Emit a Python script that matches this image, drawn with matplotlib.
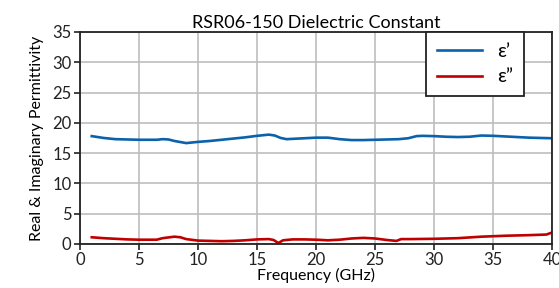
import matplotlib
matplotlib.use("Agg")
import matplotlib.pyplot as plt

plt.rcParams['font.family'] = ['Lato', 'DejaVu Sans']

# frequency points (GHz) and permittivity
freq_real = [1, 2, 3, 4, 5, 6, 6.5, 7, 7.5, 8, 9, 10, 11, 12, 13, 14, 15, 16,
             16.5, 17, 17.5, 18, 19, 20, 21, 22, 23, 24, 25, 26, 27, 27.8,
             28.5, 29, 30, 31, 32, 33, 34, 35, 36, 37, 38, 39, 40]
eps_real = [17.8, 17.5, 17.3, 17.25, 17.2, 17.2, 17.2, 17.3, 17.25, 17.0, 16.65,
            16.85, 17.0, 17.2, 17.4, 17.6, 17.85, 18.05, 17.9, 17.5, 17.3,
            17.35, 17.45, 17.55, 17.55, 17.3, 17.15, 17.15, 17.2, 17.25, 17.3,
            17.45, 17.8, 17.85, 17.8, 17.7, 17.65, 17.7, 17.9, 17.85, 17.75,
            17.65, 17.55, 17.5, 17.45]

freq_imag = [1, 2, 3, 4, 5, 6, 6.5, 7, 8, 8.5, 9, 10, 11, 12, 13, 14, 15, 16,
             16.4, 16.8, 17.2, 18, 19, 20, 21, 22, 23, 24, 25, 26, 26.8, 27.2,
             28, 30, 32, 34, 36, 38, 39.5, 40]
eps_imag = [1.1, 0.95, 0.85, 0.75, 0.7, 0.7, 0.7, 0.95, 1.2, 1.1, 0.8, 0.55,
            0.5, 0.45, 0.5, 0.6, 0.75, 0.8, 0.65, 0.15, 0.6, 0.75, 0.75, 0.7,
            0.6, 0.7, 0.9, 1.0, 0.9, 0.65, 0.5, 0.8, 0.8, 0.85, 0.95, 1.2,
            1.35, 1.45, 1.55, 1.9]

x_ticks = [0, 5, 10, 15, 20, 25, 30, 35, 40]
y_ticks = [0, 5, 10, 15, 20, 25, 30, 35]

fig, ax = plt.subplots(figsize=(5.59, 2.88), dpi=100)
fig.subplots_adjust(left=0.143, right=0.988, top=0.889, bottom=0.153)

ax.plot(freq_real, eps_real, color='#0b62ab', lw=1.9, label='ε’')
ax.plot(freq_imag, eps_imag, color='#c00000', lw=1.9, label='ε”')

ax.set_xlim(0, 40)
ax.set_ylim(0, 35)
ax.set_xticks(x_ticks)
ax.set_yticks(y_ticks)
ax.grid(True, color='#bdbdbd', lw=1.2)
ax.set_axisbelow(True)
ax.tick_params(direction='out', length=4, width=1.2, labelsize=12, colors='#222222', pad=2)
for s in ax.spines.values():
    s.set_color('#222222')
    s.set_linewidth(1.3)

ax.set_title('RSR06-150 Dielectric Constant', fontsize=13, pad=3)
ax.set_xlabel('Frequency (GHz)', fontsize=11.5, labelpad=0)
ax.set_ylabel('Real & Imaginary Permittivity', fontsize=11.5, labelpad=6)

leg = ax.legend(loc='upper right', bbox_to_anchor=(0.94, 1.0), borderaxespad=0,
                fontsize=14, fancybox=False, edgecolor='#222222', framealpha=1,
                handlelength=2.3, borderpad=0.55, labelspacing=0.45)
leg.get_frame().set_linewidth(1.3)

fig.savefig('out.png', dpi=100)
